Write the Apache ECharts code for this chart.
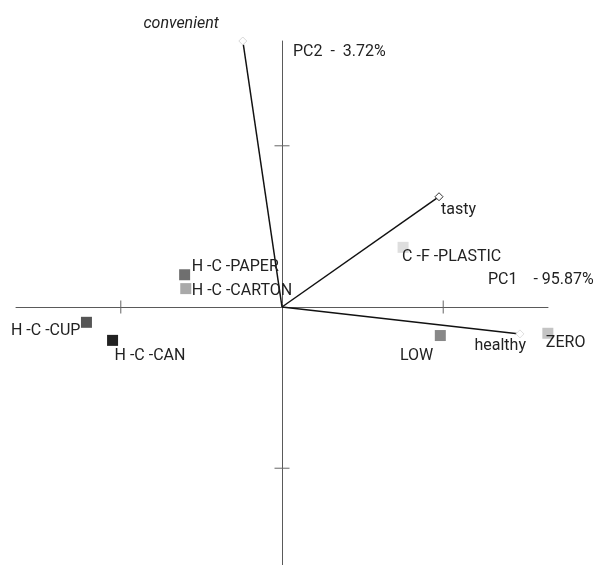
<!DOCTYPE html>
<html><head><meta charset="utf-8">
<script src="https://cdn.jsdelivr.net/npm/echarts@6/dist/echarts.min.js"></script>
<style>html,body{margin:0;padding:0;background:#fff}#c{width:604px;height:565px}</style>
</head><body><div id="c"></div>
<script>
// ---- data ----
const sampleNames = ['H -C -PAPER', 'H -C -CARTON', 'H -C -CUP', 'H -C -CAN', 'C -F -PLASTIC', 'LOW', 'ZERO'];
const samplePC1 = [-0.604, -0.597, -1.213, -1.051, 0.751, 0.982, 1.649];
const samplePC2 = [0.200, 0.114, -0.095, -0.207, 0.370, -0.177, -0.163];
const attrNames = ['convenient', 'tasty', 'healthy'];
const attrPC1 = [-0.243, 0.974, 1.476];
const attrPC2 = [1.650, 0.684, -0.167];
const axisTickValues = [-1, 1];
const axisTitles = ['PC1    - 95.87%', 'PC2  -  3.72%'];

// ---- styles ----
const FONT = 'Roboto, "Liberation Sans", sans-serif';
const TXT = '#222';
const sampleColors = ['#6f6f6f', '#a9a9a9', '#555555', '#222222', '#dedede', '#888888', '#c4c4c4'];
const sampleLabel = [
  {align: 'left', offset: [7, -8]},
  {align: 'left', offset: [6, 2]},
  {align: 'right', offset: [-6, 9]},
  {align: 'left', offset: [2, 16]},
  {align: 'left', offset: [-1, 10]},
  {align: 'right', offset: [-7, 20]},
  {align: 'left', offset: [-2, 10]}
];
const attrMarker = ['#d8d8d8', '#333', '#e0e0e0'];
const attrLabel = [
  {align: 'right', offset: [-24, -17], fontStyle: 'italic'},
  {align: 'left', offset: [2, 13], fontStyle: 'normal'},
  {align: 'right', offset: [6, 12], fontStyle: 'normal'}
];

const samplesData = sampleNames.map((n, i) => ({
  name: n,
  value: [samplePC1[i], samplePC2[i]],
  itemStyle: {color: sampleColors[i], opacity: 1},
  label: {
    show: true, formatter: n, position: 'inside',
    align: sampleLabel[i].align, verticalAlign: 'middle',
    offset: sampleLabel[i].offset,
    color: TXT, fontFamily: FONT, fontSize: 16
  }
}));

const vectorSeries = attrNames.map((n, i) => ({
  type: 'line',
  name: n,
  silent: true,
  animation: false,
  clip: false,
  z: 3,
  lineStyle: {color: '#111', width: 1.5},
  symbol: 'diamond',
  symbolSize: 8,
  itemStyle: {color: '#fff', borderColor: attrMarker[i], borderWidth: 1, opacity: 1},
  data: [
    {value: [0, 0], symbol: 'none'},
    {value: [attrPC1[i], attrPC2[i]],
     label: {show: true, formatter: n, position: 'inside',
       align: attrLabel[i].align, verticalAlign: 'middle', offset: attrLabel[i].offset,
       color: TXT, fontFamily: FONT, fontSize: 16, fontStyle: attrLabel[i].fontStyle}}
  ]
}));

const tickData = axisTickValues.map(v => ({value: [v, 0], symbolSize: [1, 13]}))
  .concat(axisTickValues.map(v => ({value: [0, v], symbolSize: [15, 1]})));

const axisCommon = {
  type: 'value', min: -1.65, max: 1.65,
  axisLine: {show: true, onZero: true, lineStyle: {color: '#5a5a5a', width: 1}},
  axisTick: {show: false}, axisLabel: {show: false}, splitLine: {show: false}
};

const chart = echarts.init(document.getElementById('c'), null, {renderer: 'canvas'});
chart.setOption({
  animation: false,
  backgroundColor: '#fff',
  grid: {left: 16, width: 532, top: 41, height: 532, outerBoundsMode: 'none', containLabel: false},
  xAxis: Object.assign({}, axisCommon),
  yAxis: Object.assign({}, axisCommon),
  graphic: [
    {type: 'text', x: 488, y: 280, style: {text: axisTitles[0], font: '16px ' + FONT, fill: TXT, align: 'left', verticalAlign: 'middle'}},
    {type: 'text', x: 293, y: 52, style: {text: axisTitles[1], font: '16px ' + FONT, fill: TXT, align: 'left', verticalAlign: 'middle'}}
  ],
  series: [
    {type: 'scatter', silent: true, symbol: 'rect', clip: false, itemStyle: {color: '#666', opacity: 1}, data: tickData, z: 1},
    {type: 'scatter', silent: true, symbol: 'rect', symbolSize: 11, clip: false, data: samplesData, z: 4}
  ].concat(vectorSeries)
});
</script></body></html>
